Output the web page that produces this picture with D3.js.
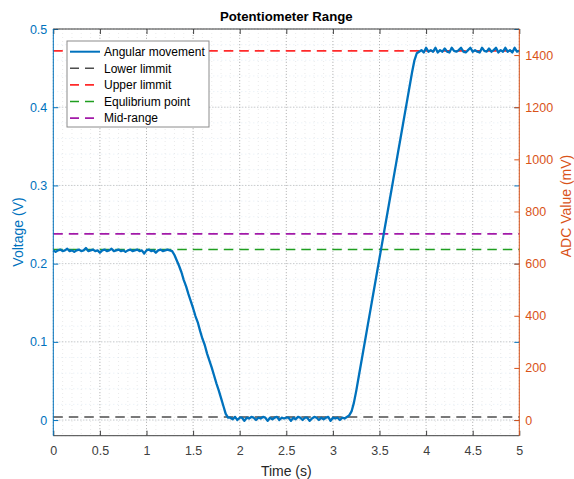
<!DOCTYPE html>
<html>
<head>
<meta charset="utf-8">
<script src="https://cdn.jsdelivr.net/npm/d3@7"></script>
<style>
    body { margin: 0; background: #fff; }
    svg text { font-family: "Liberation Sans", Arial, sans-serif; }
</style>
</head>
<body>
<svg id="chart" width="574" height="479"></svg>
<script>
// Sample period of the logged signal (s)
const samplePeriod = 0.025;

// Voltage readings (V), one every samplePeriod starting at t = 0
const voltage = [
    // resting position
    0.217,0.215,0.217,0.218,0.216,0.217,0.219,0.216,0.217,0.215,
    0.217,0.218,0.216,0.217,0.220,0.216,0.217,0.218,0.216,0.217,
    0.214,0.217,0.218,0.216,0.217,0.219,0.216,0.217,0.218,0.216,
    0.217,0.215,0.217,0.218,0.216,0.217,0.218,0.216,0.217,0.213,
    0.217,0.218,0.216,0.217,0.214,0.217,0.218,0.216,0.217,0.218,
    0.217,
    // turning down
    0.216,0.211,0.204,0.197,0.189,0.179,0.171,0.161,0.152,0.143,
    0.133,0.125,0.114,0.104,0.096,0.085,0.076,0.067,0.057,0.047,
    0.038,0.028,0.018,0.008,0.003,
    // lower end
    0.003,0.001,0.004,0.000,0.003,0.003,-0.001,0.003,0.002,0.004,
    0.003,0.000,0.003,0.002,0.004,0.003,-0.001,0.003,0.001,0.003,
    0.004,0.000,0.003,0.002,0.003,0.003,-0.001,0.003,0.001,0.004,
    0.003,0.000,0.003,0.003,-0.001,0.002,0.004,0.003,0.000,0.003,
    0.001,0.003,0.004,-0.001,0.003,0.002,0.003,0.000,0.003,0.002,
    0.004,
    // turning up
    0.006,0.011,0.022,0.037,0.054,0.071,0.088,0.105,0.122,0.139,
    0.156,0.173,0.190,0.207,0.224,0.241,0.258,0.275,0.292,0.309,
    0.326,0.343,0.360,0.377,0.394,0.411,0.428,0.445,0.460,0.469,
    // upper end
    0.471,0.473,0.470,0.476,0.471,0.473,0.471,0.476,0.470,0.473,
    0.471,0.475,0.471,0.470,0.476,0.472,0.471,0.473,0.476,0.471,
    0.470,0.473,0.476,0.471,0.473,0.471,0.470,0.476,0.472,0.471,
    0.475,0.471,0.473,0.476,0.470,0.473,0.471,0.476,0.471,0.473,
    0.470,0.476,0.471,0.472
];

// Reference levels (V)
const refNames  = ['Lower limmit', 'Upper limmit', 'Equlibrium point', 'Mid-range'];
const refValues = [0.004, 0.472, 0.218, 0.238];
const refColors = ['#4d4d4d', '#ff2a2a', '#1f9e1f', '#a21aa8'];

const xTicks      = [0, 0.5, 1, 1.5, 2, 2.5, 3, 3.5, 4, 4.5, 5];
const leftTicks   = [0, 0.1, 0.2, 0.3, 0.4, 0.5];
const rightTicks  = [0, 200, 400, 600, 800, 1000, 1200, 1400];
const xMinor      = d3.range(0, 5.0001, 0.1);
const yMinor      = d3.range(-0.02, 0.5001, 0.02);

const blue = '#0072bd',
      orange = '#d95319',
      axisGray = '#404040';

const svg = d3.select('#chart');
const pLeft = 53.3, pRight = 519.3, pTop = 29, pBottom = 435.7;

const x  = d3.scaleLinear().domain([0, 5]).range([pLeft, pRight]);
const yL = d3.scaleLinear().domain([-0.02, 0.5]).range([pBottom, pTop]);
const yR = d3.scaleLinear().domain([-60, 1500]).range([pBottom, pTop]);

const series = voltage.map((v, i) => ({ t: i * samplePeriod, v: v }));

// Grid
const grid = svg.append('g');
grid.selectAll('.xmin').data(xMinor).enter().append('line')
    .attr('x1', d => x(d)).attr('x2', d => x(d))
    .attr('y1', pTop).attr('y2', pBottom)
    .attr('stroke', '#dcdcdc').attr('stroke-width', 0.6)
    .attr('stroke-dasharray', '1,3');
grid.selectAll('.ymin').data(yMinor).enter().append('line')
    .attr('x1', pLeft).attr('x2', pRight)
    .attr('y1', d => yL(d)).attr('y2', d => yL(d))
    .attr('stroke', '#d3e3f0').attr('stroke-width', 0.6)
    .attr('stroke-dasharray', '1,3');
grid.selectAll('.xmaj').data(xTicks).enter().append('line')
    .attr('x1', d => x(d)).attr('x2', d => x(d))
    .attr('y1', pTop).attr('y2', pBottom)
    .attr('stroke', '#a8a8a8').attr('stroke-width', 0.8)
    .attr('stroke-dasharray', '1,2');
grid.selectAll('.ymaj').data(leftTicks).enter().append('line')
    .attr('x1', pLeft).attr('x2', pRight)
    .attr('y1', d => yL(d)).attr('y2', d => yL(d))
    .attr('stroke', '#a8a8a8').attr('stroke-width', 0.8)
    .attr('stroke-dasharray', '1,2');

// Reference levels
svg.append('g').selectAll('line').data(refValues).enter().append('line')
    .attr('x1', pLeft).attr('x2', pRight)
    .attr('y1', d => yL(d)).attr('y2', d => yL(d))
    .attr('stroke', (d, i) => refColors[i])
    .attr('stroke-width', 1.6)
    .attr('stroke-dasharray', '9.5,6');

// Measured signal
const line = d3.line()
    .x(d => x(d.t))
    .y(d => yL(d.v));

svg.append('path')
    .datum(series)
    .attr('fill', 'none')
    .attr('stroke', blue)
    .attr('stroke-width', 2.3)
    .attr('stroke-linejoin', 'round')
    .attr('d', line);

// Axes
const xAxisB = d3.axisBottom(x).tickValues(xTicks).tickSize(-5).tickPadding(10)
    .tickFormat(d3.format('~g'));
const xAxisT = d3.axisTop(x).tickValues(xTicks).tickSize(-5).tickFormat('');
const yAxisL = d3.axisLeft(yL).tickValues(leftTicks).tickSize(-5).tickPadding(6)
    .tickFormat(d3.format('~g'));
const yAxisLmirror = d3.axisRight(yL).tickValues(leftTicks).tickSize(-5).tickFormat('');
const yAxisR = d3.axisRight(yR).tickValues(rightTicks).tickSize(-5).tickPadding(6)
    .tickFormat(d3.format('d'));

function styleAxis(g, color) {
    g.select('.domain').remove();
    g.selectAll('line').attr('stroke', color);
    g.selectAll('text').attr('fill', color).style('font-size', '12.5px');
}

svg.append('g').attr('transform', `translate(0,${pBottom})`).call(xAxisB).call(g => styleAxis(g, axisGray));
svg.append('g').attr('transform', `translate(0,${pTop})`).call(xAxisT).call(g => styleAxis(g, axisGray));
svg.append('g').attr('transform', `translate(${pRight},0)`).call(yAxisLmirror).call(g => styleAxis(g, blue));
svg.append('g').attr('transform', `translate(${pLeft},0)`).call(yAxisL).call(g => styleAxis(g, blue));
svg.append('g').attr('transform', `translate(${pRight},0)`).call(yAxisR).call(g => styleAxis(g, orange));

// Box
svg.append('line').attr('x1', pLeft).attr('x2', pRight).attr('y1', pTop).attr('y2', pTop)
    .attr('stroke', axisGray).attr('stroke-width', 1);
svg.append('line').attr('x1', pLeft).attr('x2', pRight).attr('y1', pBottom).attr('y2', pBottom)
    .attr('stroke', axisGray).attr('stroke-width', 1);
svg.append('line').attr('x1', pLeft).attr('x2', pLeft).attr('y1', pTop).attr('y2', pBottom)
    .attr('stroke', blue).attr('stroke-width', 1);
svg.append('line').attr('x1', pRight).attr('x2', pRight).attr('y1', pTop).attr('y2', pBottom)
    .attr('stroke', orange).attr('stroke-width', 1);

// Titles
svg.append('text').attr('x', (pLeft + pRight) / 2).attr('y', 21)
    .attr('text-anchor', 'middle').style('font-size', '13.2px').style('font-weight', 'bold')
    .attr('fill', '#000').text('Potentiometer Range');
svg.append('text').attr('x', (pLeft + pRight) / 2).attr('y', 476)
    .attr('text-anchor', 'middle').style('font-size', '14px')
    .attr('fill', '#262626').text('Time (s)');
svg.append('text').attr('transform', 'translate(23,232) rotate(-90)')
    .attr('text-anchor', 'middle').style('font-size', '14px')
    .attr('fill', blue).text('Voltage (V)');
svg.append('text').attr('transform', 'translate(571,206) rotate(-90)')
    .attr('text-anchor', 'middle').style('font-size', '14px')
    .attr('fill', orange).text('ADC Value (mV)');

// Legend
const legendNames  = ['Angular movement'].concat(refNames);
const legendColors = [blue].concat(refColors);
const legend = svg.append('g').attr('transform', 'translate(67,41)');
legend.append('rect').attr('width', 142).attr('height', 86)
    .attr('fill', '#fff').attr('stroke', '#8c8c8c').attr('stroke-width', 1);
const rows = legend.selectAll('.row').data(legendNames).enter().append('g')
    .attr('transform', (d, i) => `translate(0,${10.7 + i * 16.6})`);
rows.append('line').attr('x1', 3).attr('x2', 33)
    .attr('stroke', (d, i) => legendColors[i])
    .attr('stroke-width', (d, i) => i === 0 ? 2 : 1.6)
    .attr('stroke-dasharray', (d, i) => i === 0 ? null : '9,6');
rows.append('text').attr('x', 37).attr('y', 4.3)
    .style('font-size', '12px').attr('fill', '#000').text(d => d);
</script>
</body>
</html>
